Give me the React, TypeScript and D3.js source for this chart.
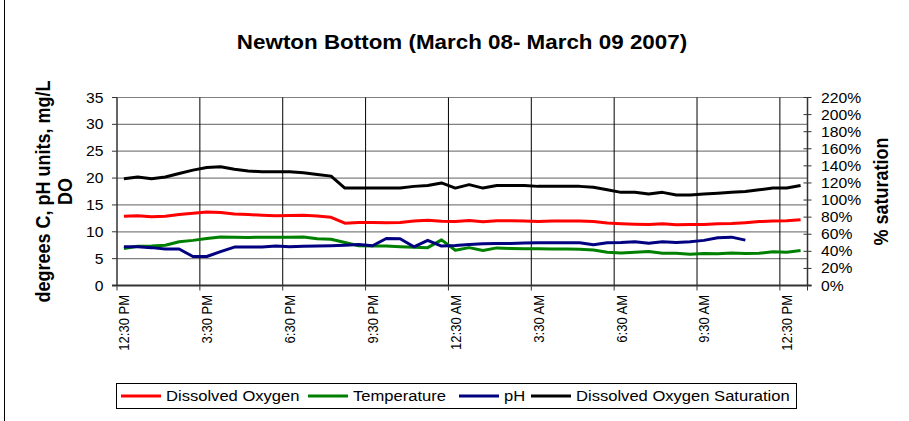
import * as d3 from "d3";

// Newton Bottom sonde record, half-hourly readings from 12:30 PM Mar 8 to 1:00 PM Mar 9
const WIDTH = 909;
const HEIGHT = 421;
const PLOT = { left: 117, right: 807.5, top: 97.5, bottom: 285.5 };
const SX = 1.12; // the reference is a little wider than it is tall, text included
const FONT = "'Liberation Sans', Arial, sans-serif";

const dissolvedOxygen = [
  12.9, 13.0, 12.8, 12.9, 13.2, 13.45, 13.7, 13.6, 13.3, 13.2,
  13.1, 13.0, 13.05, 13.1, 12.95, 12.7, 11.6, 11.75, 11.75, 11.7,
  11.75, 12.0, 12.15, 11.95, 11.9, 12.1, 11.85, 12.05, 12.05, 12.0,
  11.9, 12.0, 12.0, 12.0, 11.9, 11.65, 11.5, 11.4, 11.35, 11.5,
  11.3, 11.35, 11.35, 11.5, 11.55, 11.7, 11.9, 12.0, 12.05, 12.25,
];
const temperature = [
  6.9, 7.3, 7.35, 7.5, 8.15, 8.4, 8.75, 9.05, 9.0, 8.95,
  9.0, 9.0, 9.0, 9.05, 8.7, 8.6, 8.0, 7.4, 7.35, 7.35,
  7.2, 7.1, 7.05, 8.5, 6.55, 7.05, 6.5, 7.0, 6.9, 6.85,
  6.85, 6.8, 6.8, 6.75, 6.6, 6.2, 6.05, 6.2, 6.35, 6.0,
  6.0, 5.8, 5.95, 5.9, 6.05, 5.95, 6.0, 6.3, 6.2, 6.5,
];
// pH logger stopped a couple of hours before the others
const pH = [
  7.2, 7.2, 7.05, 6.8, 6.8, 5.4, 5.4, 6.3, 7.15, 7.15,
  7.15, 7.35, 7.2, 7.3, 7.35, 7.4, 7.5, 7.65, 7.4, 8.75,
  8.7, 7.2, 8.4, 7.35, 7.45, 7.65, 7.75, 7.8, 7.8, 7.9,
  7.95, 7.95, 7.95, 7.95, 7.6, 7.95, 8.0, 8.15, 7.85, 8.15,
  8.0, 8.15, 8.4, 8.9, 9.0, 8.45,
];
// % saturation, right axis
const saturation = [
  125, 127, 125, 127, 131, 135, 138, 139, 136, 134,
  133, 133, 133, 132, 130, 128, 114, 114, 114, 114,
  114, 116, 117, 120, 114, 118, 114, 117, 117, 117,
  116, 116, 116, 116, 115, 112, 109, 109, 107, 109,
  106, 106, 107, 108, 109, 110, 112, 114, 114, 117,
];
const timeLabels = [
  "12:30 PM", "3:30 PM", "6:30 PM", "9:30 PM", "12:30 AM",
  "3:30 AM", "6:30 AM", "9:30 AM", "12:30 PM",
];
const LABEL_EVERY = 6; // one label per 3 hours

const SERIES = [
  { name: "Dissolved Oxygen", values: dissolvedOxygen, color: "#ff0000", axis: "left" },
  { name: "Temperature", values: temperature, color: "#008000", axis: "left" },
  { name: "pH", values: pH, color: "#000080", axis: "left" },
  { name: "Dissolved Oxygen Saturation", values: saturation, color: "#000000", axis: "right" },
];

const LEGEND_X = [121, 308, 459, 531];

const HText = ({ x, y, size, bold = false, anchor = "start", dy = "0", children }: any) => (
  <text
    transform={`translate(${x},${y}) scale(${SX},1)`}
    fontSize={size}
    fontWeight={bold ? "bold" : "normal"}
    textAnchor={anchor}
    dy={dy}
  >
    {children}
  </text>
);

const VText = ({ x, y, size, bold = false, anchor = "middle", children }: any) => (
  <text
    transform={`translate(${x},${y}) rotate(-90) scale(1,${SX})`}
    fontSize={size}
    fontWeight={bold ? "bold" : "normal"}
    textAnchor={anchor}
  >
    {children}
  </text>
);

export default function App() {
  const n = dissolvedOxygen.length;
  const x = d3
    .scaleBand<number>()
    .domain(d3.range(n))
    .range([PLOT.left, PLOT.right])
    .padding(0);
  const bw = x.bandwidth();
  const cx = (i: number) => (x(i) as number) + bw / 2;

  const yLeft = d3.scaleLinear().domain([0, 35]).range([PLOT.bottom, PLOT.top]);
  const yRight = d3.scaleLinear().domain([0, 220]).range([PLOT.bottom, PLOT.top]);

  const leftTicks = d3.range(0, 36, 5);
  const rightTicks = d3.range(0, 221, 20);
  const catTicks = d3.range(0, n + 1, LABEL_EVERY).filter((i) => i < n);

  const lineFor = (axis: string) =>
    d3
      .line<number>()
      .x((_, i) => cx(i))
      .y((v) => (axis === "left" ? yLeft(v) : yRight(v)));

  const midY = (PLOT.top + PLOT.bottom) / 2;

  return (
    <svg
      width={WIDTH}
      height={HEIGHT}
      style={{ position: "absolute", left: 0, top: 0, background: "#fff" }}
      fontFamily={FONT}
    >
      <line x1={4.5} x2={4.5} y1={0} y2={HEIGHT} stroke="#000" strokeWidth={1} />

      <HText x={462} y={49} size={20} bold anchor="middle">
        Newton Bottom (March 08- March 09 2007)
      </HText>

      {/* horizontal gridlines */}
      {leftTicks.map((t) => (
        <line
          key={"hg" + t}
          x1={PLOT.left}
          x2={PLOT.right}
          y1={yLeft(t)}
          y2={yLeft(t)}
          stroke="#808080"
          strokeWidth={1.2}
        />
      ))}
      {/* vertical gridlines every 3 hours */}
      {catTicks
        .filter((i) => i > 0)
        .map((i) => (
          <line
            key={"vg" + i}
            x1={x(i)}
            x2={x(i)}
            y1={PLOT.top}
            y2={PLOT.bottom}
            stroke="#000"
            strokeWidth={1}
          />
        ))}

      {/* axes */}
      <line x1={PLOT.left} x2={PLOT.left} y1={PLOT.top} y2={PLOT.bottom} stroke="#333" strokeWidth={1.5} />
      <line x1={PLOT.right} x2={PLOT.right} y1={PLOT.top} y2={PLOT.bottom} stroke="#333" strokeWidth={1.5} />
      <line x1={PLOT.left - 5} x2={PLOT.right + 4} y1={PLOT.bottom} y2={PLOT.bottom} stroke="#333" strokeWidth={2} />

      {leftTicks.map((t) => (
        <g key={"lt" + t}>
          <line x1={PLOT.left - 5} x2={PLOT.left} y1={yLeft(t)} y2={yLeft(t)} stroke="#333" />
          <HText x={103.5} y={yLeft(t)} size={14} anchor="end" dy="0.36em">
            {t}
          </HText>
        </g>
      ))}
      {rightTicks.map((t) => (
        <g key={"rt" + t}>
          <line x1={PLOT.right - 4} x2={PLOT.right + 4} y1={yRight(t)} y2={yRight(t)} stroke="#333" />
          <HText x={821} y={yRight(t)} size={14} dy="0.36em">
            {t + "%"}
          </HText>
        </g>
      ))}
      {catTicks.concat([n]).map((i) => (
        <line
          key={"xt" + i}
          x1={i < n ? x(i) : PLOT.right}
          x2={i < n ? x(i) : PLOT.right}
          y1={PLOT.bottom}
          y2={PLOT.bottom + 5}
          stroke="#333"
        />
      ))}
      {catTicks.map((i, k) => (
        <VText key={"xl" + i} x={cx(i) + 5.5} y={295} size={13} anchor="end">
          {timeLabels[k]}
        </VText>
      ))}

      {/* axis titles */}
      <VText x={50} y={midY} size={18} bold>
        degrees C, pH units, mg/L
      </VText>
      <VText x={71.5} y={midY} size={18} bold>
        DO
      </VText>
      <VText x={888} y={midY} size={18} bold>
        % saturation
      </VText>

      {/* series */}
      {SERIES.map((s) => (
        <path
          key={s.name}
          d={lineFor(s.axis)(s.values) as string}
          fill="none"
          stroke={s.color}
          strokeWidth={3}
          strokeLinejoin="round"
        />
      ))}

      {/* legend */}
      <rect x={116.5} y={383.5} width={680} height={25} fill="#fff" stroke="#000" strokeWidth={1} />
      {SERIES.map((s, k) => (
        <g key={"lg" + s.name}>
          <line x1={LEGEND_X[k]} x2={LEGEND_X[k] + 40} y1={396} y2={396} stroke={s.color} strokeWidth={3} />
          <HText x={LEGEND_X[k] + 45} y={396} size={14.8} dy="0.36em">
            {s.name}
          </HText>
        </g>
      ))}
    </svg>
  );
}
